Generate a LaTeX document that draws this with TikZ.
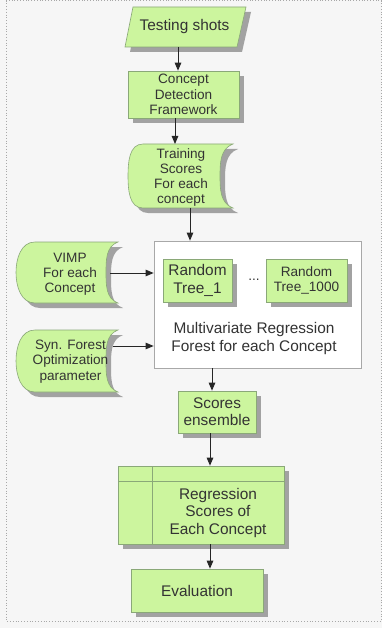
\documentclass[tikz,border=0pt]{standalone}
\usepackage{fontspec}
\setmainfont{Liberation Sans}
\usetikzlibrary{arrows.meta,shadows}
\definecolor{bg}{HTML}{F6F6F6}
\definecolor{lg}{HTML}{CCF59E}
\definecolor{lgd}{HTML}{8AA878}
\definecolor{shd}{HTML}{A2A2A2}
\definecolor{txt}{HTML}{333333}
\definecolor{framec}{HTML}{A8A8A8}
\newcommand\sdshape[6]{%
  \fill[sh,shift={(5,5)}] (#1+#5,#2) -- (#3,#2) to[out=200,in=90] (#3-#6,{(#2+#4)/2}) to[out=-90,in=160] (#3,#4) -- (#1+#5,#4) to[out=180,in=-90] (#1,{(#2+#4)/2}) to[out=90,in=180] (#1+#5,#2) -- cycle;
  \draw[body] (#1+#5,#2) -- (#3,#2) to[out=200,in=90] (#3-#6,{(#2+#4)/2}) to[out=-90,in=160] (#3,#4) -- (#1+#5,#4) to[out=180,in=-90] (#1,{(#2+#4)/2}) to[out=90,in=180] (#1+#5,#2) -- cycle;
}
\begin{document}
\begin{tikzpicture}[x=1pt,y=-1pt,
  sh/.style={fill=shd, draw=none},
  body/.style={fill=lg, draw=lgd, line width=0.6pt},
  box/.style={body, drop shadow={shadow xshift=5pt, shadow yshift=-5pt, fill=shd, opacity=1}, inner sep=0pt, align=center, text=txt},
  bigf/.style={font=\fontsize{15.4}{17.2}\selectfont},
  smallf/.style={font=\fontsize{13.6}{15.2}\selectfont},
  lbl/.style={inner sep=0pt, align=center, text=txt},
  arr/.style={draw=black!85, line width=0.9pt, -{Triangle[length=8pt,width=6.5pt]}},
]
\fill[bg] (0,0) rectangle (382,628);
\draw[framec, dotted, line width=0.8pt] (6,0.6) rectangle (381.4,621);

% Testing shots
\fill[sh, shift={(5,5)}] (133,7) -- (246,7) -- (237,47) -- (125,47) -- cycle;
\draw[body] (133,7) -- (246,7) -- (237,47) -- (125,47) -- cycle;
\node[lbl,bigf] (ts) at (184.5,27) {Testing shots};

% Concept detection
\node[box,smallf,minimum width=111,minimum height=47] (cdf) at (183.5,94.5) {Concept\\Detection\\Framework};

% Training scores
\sdshape{128}{144}{233}{208}{15}{13}
\node[lbl,smallf] (tr) at (181,177.5) {Training\\Scores\\For each\\concept};

% Container
\node[draw=framec, fill=white, line width=0.7pt, minimum width=207, minimum height=127, inner sep=0pt] (cont) at (257.5,304.5) {};
\node[box,bigf,minimum width=69,minimum height=43] (rt1) at (197.5,280.5) {Random\\Tree\_1};
\node[box,smallf,minimum width=81,minimum height=43] (rt2) at (306.5,280.5) {Random\\Tree\_1000};
\node[lbl,smallf] (dots) at (254,280) {...};
\node[lbl,bigf] (mvr) at (254,338.5) {Multivariate Regression\\Forest for each Concept};

% VIMP and Syn
\sdshape{16}{242}{118}{303}{19}{12}
\node[lbl,smallf] (vimp) at (70,274) {VIMP\\For each\\Concept};
\sdshape{16}{330}{118}{392}{19}{12}
\node[lbl,smallf] (syn) at (70.5,361.5) {Syn. Forest\\Optimization\\parameter};

% Scores ensemble
\node[box,bigf,minimum width=78,minimum height=42] (se) at (217,412) {Scores\\ensemble};

% Regression
\node[box,minimum width=166,minimum height=78] (reg) at (201,505) {};
\draw[lgd, line width=0.6pt] (152,466) -- (152,544) (118,481) -- (284,481);
\node[lbl,bigf] (regt) at (218,513) {Regression\\Scores of\\Each Concept};

% Evaluation
\node[box,bigf,minimum width=132,minimum height=43] (ev) at (197,590.5) {Evaluation};

% Arrows
\coordinate (a1) at (178,47);
\draw[arr] (a1) -- (a1 |- cdf.north);
\coordinate (a2) at (175,118);
\coordinate (trt) at (175,144);
\draw[arr] (a2) -- (trt);
\coordinate (a3) at (190,208);
\draw[arr] (a3) -- (a3 |- cont.north);
\coordinate (vo) at (110,273);
\draw[arr] (vo) -- (vo -| cont.west);
\coordinate (so) at (113,346);
\draw[arr] (so) -- (so -| cont.west);
\coordinate (a4) at (212,368);
\draw[arr] (a4) -- (a4 |- se.north);
\coordinate (a5) at (210,433);
\draw[arr] (a5) -- (a5 |- reg.north);
\coordinate (a6) at (210,544);
\draw[arr] (a6) -- (a6 |- ev.north);
\end{tikzpicture}
\end{document}
